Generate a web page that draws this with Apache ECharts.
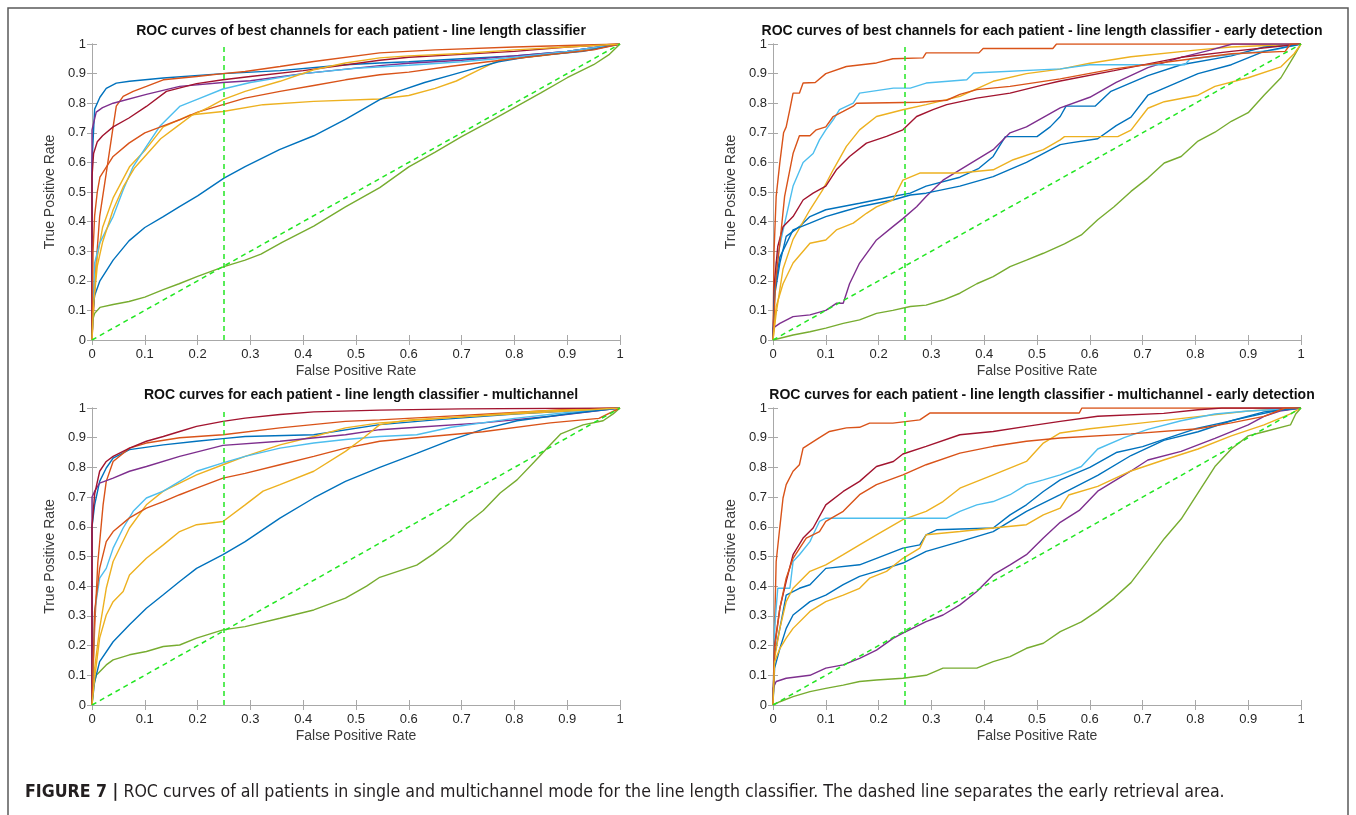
<!DOCTYPE html>
<html>
<head>
<meta charset="utf-8">
<script src="https://cdn.jsdelivr.net/npm/echarts@6/dist/echarts.min.js"></script>
<style>
  html, body { margin: 0; padding: 0; background: #fff; }
  #rocChart { width: 1356px; height: 815px; }
</style>
</head>
<body>
<div id="rocChart"></div>
<script>
// MATLAB default line colour order, one per patient (10 patients)
const patientColors = ["#0072BD", "#D95319", "#EDB120", "#7E2F8E", "#77AC30",
  "#4DBEEE", "#A2142F", "#0072BD", "#D95319", "#EDB120"];

const panelTitles = [
  "ROC curves of best channels for each patient - line length classifier",
  "ROC curves of best channels for each patient - line length classifier - early detection",
  "ROC curves for each patient - line length classifier - multichannel",
  "ROC curves for each patient - line length classifier - multichannel - early detection",
];

const earlyCutoff = 0.25;
const chanceLine = [[0, 0], [1, 1]];

// [false positive rate, true positive rate] per patient
const singleFull = [
  [[0,0],[0,0.6],[0.005,0.78],[0.015,0.82],[0.027,0.85],[0.046,0.868],[0.071,0.874],[0.135,0.885],[0.248,0.9],[0.356,0.91],[0.48,0.93],[0.545,0.936],[0.6,0.94],[0.7,0.95],[0.8,0.96],[0.9,0.975],[1,1]],
  [[0,0],[0.008,0.26],[0.0145,0.417],[0.027,0.564],[0.04,0.72],[0.046,0.79],[0.059,0.823],[0.078,0.84],[0.103,0.857],[0.135,0.879],[0.198,0.89],[0.248,0.9],[0.29,0.907],[0.356,0.924],[0.42,0.941],[0.545,0.97],[0.65,0.98],[0.8,0.99],[0.9,0.995],[1,1]],
  [[0,0],[0.003,0.15],[0.01,0.28],[0.02,0.38],[0.04,0.48],[0.071,0.585],[0.1,0.64],[0.135,0.72],[0.185,0.76],[0.248,0.772],[0.324,0.795],[0.42,0.806],[0.545,0.814],[0.6,0.826],[0.65,0.85],[0.69,0.875],[0.73,0.91],[0.77,0.945],[0.85,0.96],[0.92,0.975],[1,1]],
  [[0,0],[0,0.71],[0.008,0.77],[0.02,0.785],[0.04,0.8],[0.103,0.83],[0.166,0.857],[0.248,0.87],[0.3,0.876],[0.4,0.9],[0.545,0.927],[0.6,0.935],[0.7,0.945],[0.8,0.96],[0.9,0.975],[1,1]],
  [[0,0],[0,0.06],[0.005,0.09],[0.015,0.11],[0.04,0.12],[0.07,0.13],[0.1,0.145],[0.135,0.17],[0.165,0.19],[0.2,0.215],[0.25,0.248],[0.29,0.27],[0.32,0.29],[0.36,0.33],[0.42,0.385],[0.48,0.45],[0.545,0.515],[0.6,0.585],[0.65,0.635],[0.7,0.687],[0.75,0.735],[0.8,0.785],[0.85,0.835],[0.9,0.886],[0.95,0.93],[0.98,0.965],[1,1]],
  [[0,0],[0.005,0.26],[0.0145,0.327],[0.027,0.372],[0.04,0.417],[0.059,0.507],[0.078,0.586],[0.103,0.654],[0.128,0.721],[0.147,0.755],[0.166,0.789],[0.198,0.812],[0.248,0.848],[0.3,0.87],[0.4,0.9],[0.5,0.918],[0.6,0.928],[0.7,0.94],[0.8,0.955],[0.9,0.975],[1,1]],
  [[0,0],[0,0.55],[0.003,0.63],[0.01,0.67],[0.02,0.69],[0.04,0.72],[0.07,0.75],[0.103,0.789],[0.141,0.84],[0.198,0.866],[0.248,0.879],[0.3,0.89],[0.4,0.91],[0.545,0.945],[0.6,0.955],[0.7,0.965],[0.8,0.975],[0.9,0.99],[1,1]],
  [[0,0],[0.002,0.1],[0.005,0.15],[0.015,0.2],[0.04,0.27],[0.07,0.335],[0.1,0.38],[0.135,0.417],[0.165,0.45],[0.2,0.487],[0.25,0.547],[0.29,0.586],[0.355,0.643],[0.42,0.69],[0.48,0.745],[0.545,0.812],[0.58,0.84],[0.63,0.87],[0.68,0.895],[0.73,0.92],[0.77,0.94],[0.82,0.955],[0.87,0.965],[0.93,0.975],[1,1]],
  [[0,0],[0.002,0.3],[0.005,0.42],[0.01,0.5],[0.015,0.55],[0.04,0.62],[0.07,0.665],[0.1,0.7],[0.14,0.727],[0.166,0.744],[0.2,0.77],[0.248,0.795],[0.29,0.817],[0.356,0.84],[0.42,0.86],[0.48,0.879],[0.545,0.896],[0.6,0.905],[0.68,0.925],[0.75,0.94],[0.87,0.965],[0.95,0.98],[1,1]],
  [[0,0],[0.003,0.12],[0.01,0.25],[0.02,0.33],[0.04,0.44],[0.06,0.52],[0.08,0.58],[0.1,0.62],[0.13,0.68],[0.16,0.72],[0.19,0.76],[0.22,0.785],[0.248,0.812],[0.29,0.84],[0.356,0.874],[0.42,0.913],[0.48,0.936],[0.545,0.953],[0.6,0.96],[0.7,0.968],[0.8,0.98],[0.9,0.99],[1,1]],
];

const singleEarly = [
  [[0,0],[0.003,0.15],[0.013,0.26],[0.025,0.35],[0.05,0.383],[0.07,0.417],[0.1,0.44],[0.164,0.462],[0.227,0.485],[0.26,0.496],[0.29,0.52],[0.354,0.55],[0.39,0.58],[0.417,0.62],[0.44,0.687],[0.5,0.687],[0.525,0.72],[0.544,0.755],[0.555,0.79],[0.61,0.79],[0.64,0.84],[0.71,0.893],[0.773,0.93],[0.868,0.96],[0.93,0.99],[1,1]],
  [[0,0],[0.002,0.3],[0.006,0.485],[0.013,0.6],[0.02,0.7],[0.025,0.72],[0.032,0.78],[0.038,0.834],[0.05,0.834],[0.057,0.868],[0.08,0.87],[0.1,0.9],[0.139,0.924],[0.196,0.936],[0.227,0.95],[0.284,0.953],[0.29,0.97],[0.39,0.97],[0.398,0.985],[0.53,0.985],[0.537,1],[1,1]],
  [[0,0],[0.006,0.09],[0.019,0.24],[0.038,0.34],[0.07,0.44],[0.095,0.51],[0.114,0.575],[0.139,0.654],[0.164,0.71],[0.196,0.755],[0.246,0.778],[0.29,0.795],[0.354,0.823],[0.417,0.874],[0.48,0.9],[0.544,0.915],[0.6,0.935],[0.678,0.957],[0.805,0.98],[0.868,0.99],[1,1]],
  [[0,0],[0,0.04],[0.013,0.056],[0.038,0.079],[0.07,0.085],[0.1,0.1],[0.12,0.124],[0.133,0.124],[0.145,0.19],[0.164,0.26],[0.196,0.338],[0.227,0.383],[0.246,0.41],[0.272,0.45],[0.29,0.485],[0.322,0.54],[0.354,0.575],[0.417,0.643],[0.449,0.7],[0.48,0.72],[0.544,0.784],[0.6,0.82],[0.65,0.87],[0.71,0.92],[0.773,0.955],[0.83,0.98],[0.87,1],[1,1]],
  [[0,0],[0.038,0.017],[0.07,0.028],[0.1,0.04],[0.133,0.056],[0.164,0.068],[0.196,0.09],[0.227,0.1],[0.26,0.113],[0.29,0.118],[0.322,0.135],[0.354,0.158],[0.386,0.19],[0.417,0.214],[0.449,0.248],[0.48,0.27],[0.512,0.293],[0.552,0.325],[0.584,0.355],[0.615,0.406],[0.646,0.45],[0.678,0.502],[0.71,0.547],[0.741,0.598],[0.773,0.62],[0.805,0.672],[0.837,0.702],[0.868,0.739],[0.9,0.768],[0.93,0.827],[0.962,0.886],[0.987,0.96],[1,1]],
  [[0,0],[0.006,0.26],[0.019,0.37],[0.038,0.52],[0.057,0.6],[0.076,0.63],[0.088,0.676],[0.1,0.71],[0.114,0.744],[0.126,0.778],[0.152,0.8],[0.164,0.834],[0.228,0.851],[0.26,0.851],[0.29,0.868],[0.367,0.879],[0.38,0.902],[0.544,0.916],[0.6,0.93],[0.78,0.93],[0.79,0.95],[0.9,0.97],[0.95,0.98],[1,1]],
  [[0,0],[0.003,0.2],[0.009,0.316],[0.019,0.383],[0.038,0.417],[0.057,0.473],[0.076,0.496],[0.1,0.52],[0.12,0.575],[0.145,0.62],[0.177,0.665],[0.215,0.688],[0.246,0.71],[0.272,0.755],[0.303,0.778],[0.329,0.795],[0.386,0.817],[0.449,0.834],[0.512,0.862],[0.544,0.875],[0.646,0.91],[0.773,0.955],[0.868,0.975],[1,1]],
  [[0,0],[0.003,0.17],[0.013,0.28],[0.038,0.372],[0.07,0.395],[0.1,0.417],[0.133,0.434],[0.164,0.45],[0.227,0.473],[0.26,0.49],[0.29,0.496],[0.354,0.52],[0.417,0.552],[0.48,0.6],[0.544,0.66],[0.56,0.665],[0.615,0.68],[0.65,0.724],[0.678,0.753],[0.71,0.827],[0.74,0.85],[0.805,0.9],[0.868,0.93],[0.93,0.975],[1,1]],
  [[0,0],[0.005,0.2],[0.013,0.327],[0.022,0.485],[0.038,0.63],[0.05,0.69],[0.07,0.69],[0.082,0.71],[0.1,0.72],[0.114,0.755],[0.133,0.772],[0.152,0.79],[0.158,0.8],[0.278,0.803],[0.329,0.81],[0.354,0.83],[0.386,0.846],[0.449,0.857],[0.544,0.882],[0.646,0.916],[0.75,0.94],[0.868,0.967],[0.97,0.975],[0.98,1],[1,1]],
  [[0,0],[0.006,0.113],[0.019,0.19],[0.038,0.26],[0.07,0.327],[0.1,0.338],[0.12,0.372],[0.152,0.395],[0.177,0.428],[0.196,0.45],[0.227,0.473],[0.246,0.54],[0.278,0.564],[0.354,0.564],[0.417,0.575],[0.455,0.609],[0.512,0.643],[0.544,0.676],[0.552,0.687],[0.653,0.687],[0.678,0.709],[0.71,0.783],[0.741,0.805],[0.805,0.827],[0.837,0.857],[0.9,0.886],[0.962,0.923],[0.987,0.967],[1,1]],
];

const multiFull = [
  [[0,0],[0,0.6],[0.005,0.674],[0.0145,0.753],[0.027,0.798],[0.04,0.831],[0.071,0.86],[0.135,0.876],[0.198,0.888],[0.248,0.897],[0.29,0.904],[0.42,0.91],[0.545,0.944],[0.65,0.96],[0.8,0.98],[0.9,0.99],[1,1]],
  [[0,0],[0.005,0.26],[0.011,0.48],[0.021,0.674],[0.027,0.753],[0.04,0.82],[0.071,0.865],[0.103,0.882],[0.166,0.9],[0.248,0.91],[0.356,0.933],[0.48,0.955],[0.545,0.96],[0.65,0.97],[0.8,0.985],[0.9,0.995],[1,1]],
  [[0,0],[0.005,0.124],[0.0145,0.258],[0.027,0.393],[0.04,0.483],[0.071,0.596],[0.103,0.674],[0.135,0.72],[0.166,0.747],[0.198,0.775],[0.248,0.809],[0.29,0.837],[0.356,0.876],[0.42,0.904],[0.48,0.933],[0.545,0.95],[0.7,0.97],[0.85,0.99],[1,1]],
  [[0,0],[0,0.7],[0.005,0.72],[0.0145,0.747],[0.04,0.764],[0.071,0.787],[0.103,0.803],[0.166,0.837],[0.248,0.874],[0.356,0.888],[0.48,0.91],[0.545,0.927],[0.615,0.935],[0.74,0.95],[0.87,0.972],[1,1]],
  [[0,0],[0.002,0.056],[0.008,0.1],[0.027,0.135],[0.04,0.152],[0.071,0.169],[0.103,0.18],[0.135,0.197],[0.166,0.202],[0.198,0.225],[0.248,0.253],[0.29,0.264],[0.356,0.292],[0.42,0.32],[0.48,0.36],[0.52,0.4],[0.545,0.43],[0.615,0.471],[0.646,0.508],[0.678,0.552],[0.71,0.611],[0.741,0.655],[0.773,0.714],[0.805,0.758],[0.837,0.817],[0.868,0.876],[0.888,0.913],[0.93,0.943],[0.968,0.957],[0.987,0.98],[1,1]],
  [[0,0],[0.005,0.315],[0.0145,0.427],[0.027,0.46],[0.04,0.528],[0.059,0.596],[0.078,0.652],[0.103,0.697],[0.135,0.72],[0.166,0.753],[0.198,0.787],[0.248,0.815],[0.29,0.837],[0.356,0.865],[0.42,0.882],[0.48,0.894],[0.545,0.904],[0.615,0.91],[0.68,0.935],[0.8,0.965],[0.9,0.985],[1,1]],
  [[0,0],[0,0.6],[0.005,0.71],[0.0145,0.787],[0.027,0.82],[0.04,0.837],[0.071,0.865],[0.103,0.888],[0.135,0.904],[0.166,0.921],[0.198,0.938],[0.248,0.955],[0.29,0.966],[0.356,0.978],[0.42,0.987],[0.545,0.993],[0.7,0.997],[1,1]],
  [[0,0],[0.005,0.079],[0.0145,0.146],[0.04,0.213],[0.071,0.27],[0.103,0.326],[0.135,0.371],[0.166,0.416],[0.198,0.46],[0.248,0.506],[0.29,0.55],[0.356,0.629],[0.42,0.697],[0.48,0.753],[0.545,0.8],[0.615,0.847],[0.678,0.891],[0.74,0.928],[0.805,0.957],[0.9,0.98],[1,1]],
  [[0,0],[0.005,0.315],[0.0145,0.46],[0.027,0.55],[0.04,0.584],[0.071,0.63],[0.103,0.663],[0.135,0.685],[0.166,0.708],[0.198,0.73],[0.248,0.764],[0.29,0.78],[0.356,0.809],[0.42,0.837],[0.48,0.865],[0.545,0.888],[0.615,0.9],[0.74,0.92],[0.868,0.95],[0.96,0.965],[1,1]],
  [[0,0],[0.005,0.09],[0.0145,0.225],[0.027,0.303],[0.04,0.348],[0.059,0.382],[0.071,0.438],[0.103,0.494],[0.135,0.539],[0.166,0.584],[0.198,0.607],[0.248,0.618],[0.29,0.674],[0.324,0.72],[0.356,0.742],[0.42,0.787],[0.48,0.854],[0.514,0.899],[0.545,0.944],[0.6,0.96],[0.75,0.975],[0.9,0.99],[1,1]],
];

const multiEarly = [
  [[0,0],[0.003,0.169],[0.013,0.258],[0.025,0.37],[0.05,0.393],[0.07,0.405],[0.1,0.46],[0.164,0.472],[0.196,0.494],[0.246,0.528],[0.278,0.539],[0.29,0.573],[0.31,0.59],[0.417,0.596],[0.449,0.64],[0.48,0.674],[0.512,0.719],[0.544,0.758],[0.6,0.8],[0.65,0.85],[0.7,0.87],[0.75,0.9],[0.8,0.93],[0.85,0.95],[0.9,0.97],[0.95,0.99],[1,1]],
  [[0,0],[0.003,0.258],[0.006,0.483],[0.013,0.6],[0.019,0.697],[0.025,0.742],[0.038,0.787],[0.05,0.809],[0.057,0.865],[0.088,0.9],[0.107,0.921],[0.139,0.933],[0.164,0.935],[0.183,0.949],[0.227,0.949],[0.278,0.96],[0.297,0.983],[0.58,0.983],[0.585,1],[1,1]],
  [[0,0],[0.003,0.157],[0.013,0.258],[0.025,0.348],[0.038,0.393],[0.07,0.45],[0.1,0.472],[0.133,0.506],[0.164,0.539],[0.196,0.573],[0.246,0.624],[0.29,0.652],[0.322,0.685],[0.354,0.73],[0.417,0.775],[0.48,0.82],[0.512,0.882],[0.544,0.916],[0.6,0.93],[0.7,0.95],[0.8,0.97],[0.9,0.99],[1,1]],
  [[0,0],[0,0.056],[0.006,0.079],[0.025,0.09],[0.07,0.1],[0.1,0.124],[0.133,0.135],[0.164,0.157],[0.196,0.185],[0.228,0.225],[0.246,0.242],[0.29,0.281],[0.322,0.303],[0.354,0.337],[0.386,0.382],[0.417,0.438],[0.449,0.472],[0.48,0.506],[0.512,0.562],[0.544,0.615],[0.58,0.655],[0.615,0.72],[0.678,0.788],[0.71,0.825],[0.773,0.854],[0.837,0.898],[0.9,0.943],[0.93,0.972],[0.96,0.99],[1,1]],
  [[0,0],[0.013,0.011],[0.038,0.028],[0.07,0.045],[0.1,0.056],[0.133,0.067],[0.164,0.079],[0.196,0.084],[0.246,0.09],[0.29,0.1],[0.322,0.124],[0.386,0.124],[0.417,0.146],[0.449,0.163],[0.48,0.191],[0.512,0.208],[0.544,0.247],[0.584,0.28],[0.615,0.317],[0.646,0.36],[0.678,0.412],[0.71,0.486],[0.741,0.56],[0.773,0.626],[0.805,0.714],[0.837,0.803],[0.868,0.862],[0.9,0.906],[0.93,0.92],[0.98,0.943],[0.99,0.98],[1,1]],
  [[0,0],[0.003,0.258],[0.009,0.393],[0.032,0.393],[0.038,0.483],[0.05,0.506],[0.07,0.55],[0.076,0.573],[0.088,0.618],[0.1,0.629],[0.329,0.629],[0.354,0.652],[0.386,0.674],[0.417,0.685],[0.449,0.708],[0.48,0.742],[0.512,0.758],[0.544,0.775],[0.584,0.803],[0.615,0.862],[0.665,0.9],[0.71,0.928],[0.773,0.957],[0.837,0.98],[0.9,0.99],[1,1]],
  [[0,0],[0.003,0.2],[0.013,0.326],[0.025,0.416],[0.038,0.506],[0.057,0.562],[0.076,0.596],[0.1,0.674],[0.133,0.719],[0.164,0.753],[0.196,0.803],[0.228,0.82],[0.246,0.845],[0.29,0.871],[0.354,0.91],[0.417,0.921],[0.48,0.938],[0.544,0.955],[0.615,0.972],[0.74,0.982],[0.805,0.994],[0.85,1],[1,1]],
  [[0,0],[0.003,0.124],[0.013,0.19],[0.025,0.258],[0.038,0.303],[0.07,0.348],[0.1,0.37],[0.133,0.405],[0.164,0.433],[0.196,0.45],[0.246,0.478],[0.29,0.517],[0.354,0.55],[0.417,0.584],[0.48,0.652],[0.544,0.708],[0.615,0.773],[0.678,0.84],[0.74,0.891],[0.805,0.92],[0.868,0.957],[0.93,0.987],[1,1]],
  [[0,0],[0.003,0.19],[0.013,0.326],[0.025,0.427],[0.038,0.494],[0.063,0.562],[0.088,0.584],[0.1,0.618],[0.133,0.652],[0.164,0.708],[0.196,0.742],[0.246,0.775],[0.29,0.809],[0.354,0.848],[0.417,0.871],[0.48,0.888],[0.544,0.899],[0.678,0.913],[0.805,0.93],[0.868,0.95],[0.93,0.972],[0.97,1],[1,1]],
  [[0,0],[0.003,0.146],[0.013,0.19],[0.025,0.225],[0.038,0.258],[0.07,0.315],[0.1,0.348],[0.133,0.37],[0.164,0.393],[0.183,0.427],[0.215,0.45],[0.246,0.494],[0.278,0.528],[0.29,0.573],[0.354,0.584],[0.417,0.596],[0.48,0.607],[0.512,0.64],[0.544,0.663],[0.56,0.707],[0.615,0.736],[0.678,0.788],[0.74,0.825],[0.805,0.862],[0.868,0.906],[0.93,0.943],[0.98,0.98],[1,1]],
];

const panels = [singleFull, singleEarly, multiFull, multiEarly];

// pixel boxes of the four axes
const grids = [
  { left: 92, top: 44, width: 528, height: 296 },
  { left: 773, top: 44, width: 528, height: 296 },
  { left: 92, top: 408, width: 528, height: 297 },
  { left: 773, top: 408, width: 528, height: 297 },
];

const tickFont = "Liberation Sans, Arial, sans-serif";
const axisGray = "#a8a8a8";
const guideGreen = "#22e622";

const fmt = (v) => String(+v.toFixed(1));

const xAxes = [];
const yAxes = [];
const series = [];

grids.forEach((g, i) => {
  const base = {
    gridIndex: i, type: "value", min: 0, max: 1, interval: 0.1,
    splitLine: { show: false },
    axisLine: { show: true, lineStyle: { color: axisGray, width: 1 } },
    axisTick: { show: true, inside: true, length: 5, lineStyle: { color: axisGray } },
  };
  xAxes.push({
    ...base, position: "bottom",
    name: "False Positive Rate", nameLocation: "middle", nameGap: 24,
    nameTextStyle: { fontFamily: tickFont, fontSize: 14, color: "#3a3a3a" },
    axisLabel: { formatter: fmt, fontFamily: tickFont, fontSize: 13, color: "#262626", margin: 8 },
  });
  xAxes.push({ ...base, position: "top", axisLabel: { show: false } });
  yAxes.push({
    ...base, position: "left",
    name: "True Positive Rate", nameLocation: "middle", nameGap: 35,
    nameTextStyle: { fontFamily: tickFont, fontSize: 14, color: "#3a3a3a" },
    axisLabel: { formatter: fmt, fontFamily: tickFont, fontSize: 13, color: "#262626", margin: 6 },
  });
  yAxes.push({ ...base, position: "right", axisLabel: { show: false } });

  panels[i].forEach((curve, k) => {
    series.push({
      type: "line", xAxisIndex: 2 * i, yAxisIndex: 2 * i,
      data: curve, showSymbol: false, symbol: "none", silent: true,
      lineStyle: { color: patientColors[k], width: 1.4 },
      z: 2 + k * 0.01,
    });
  });
  // chance diagonal and early-retrieval cutoff
  series.push({
    type: "line", xAxisIndex: 2 * i, yAxisIndex: 2 * i,
    data: chanceLine, symbol: "none", silent: true,
    lineStyle: { color: guideGreen, width: 1.5, type: [5, 4] }, z: 3,
  });
  series.push({
    type: "line", xAxisIndex: 2 * i, yAxisIndex: 2 * i,
    data: [[earlyCutoff, 0], [earlyCutoff, 1]], symbol: "none", silent: true,
    lineStyle: { color: guideGreen, width: 1.5, type: [5, 4] }, z: 3,
  });
});

const titles = grids.map((g, i) => ({
  text: panelTitles[i],
  left: g.left + g.width / 2,
  top: g.top - 25,
  textAlign: "center",
  textStyle: { fontFamily: tickFont, fontSize: 14, fontWeight: "bold", color: "#111" },
}));

const chart = echarts.init(document.getElementById("rocChart"));
chart.setOption({
  backgroundColor: "#fff",
  animation: false,
  title: titles,
  grid: grids,
  xAxis: xAxes,
  yAxis: yAxes,
  series: series,
  graphic: [
    {
      type: "rect", shape: { x: 8, y: 8, width: 1340, height: 830 },
      style: { fill: "none", stroke: "#5a5a5a", lineWidth: 1.5 }, silent: true,
    },
    {
      type: "text", left: 25, top: 783,
      style: {
        text: "{b|FIGURE 7 |} ROC curves of all patients in single and multichannel mode for the line length classifier. The dashed line separates the early retrieval area.",
        fontFamily: "'Liberation Sans Narrow', 'DejaVu Sans Condensed', 'Roboto Condensed', sans-serif",
        fontSize: 17.6, fill: "#231f20",
        rich: { b: { fontWeight: "bold", fontSize: 17.6, fill: "#231f20",
          fontFamily: "'Liberation Sans Narrow', 'DejaVu Sans Condensed', sans-serif" } },
      },
    },
  ],
});
</script>
</body>
</html>
